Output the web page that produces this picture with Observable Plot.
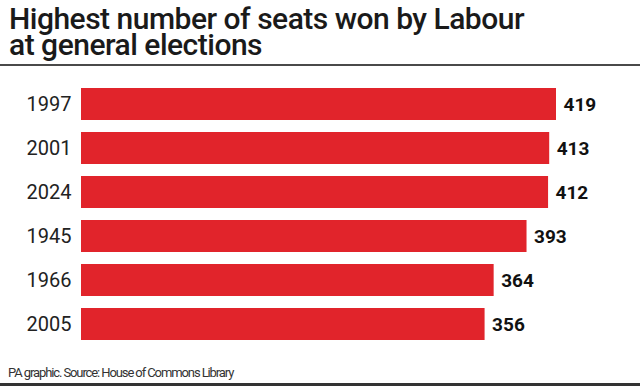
<!DOCTYPE html>
<html>
<head>
<meta charset="utf-8">
<script src="https://cdn.jsdelivr.net/npm/d3@7"></script>
<script src="https://cdn.jsdelivr.net/npm/@observablehq/plot@0.6"></script>
<style>
  html, body { margin: 0; padding: 0; background: #fff; }
  #wrap { position: relative; width: 640px; height: 386px; overflow: hidden; font-family: Roboto, "Noto Sans", sans-serif; }
  #title { position: absolute; left: 9px; top: 6px; font-size: 30px; font-weight: 500; line-height: 26px; letter-spacing: -0.5px; color: #1a1a1a; white-space: nowrap; }
  #rule1 { position: absolute; left: 0; top: 64px; width: 640px; height: 2px; background: #4a4a4a; }
  #chart { position: absolute; left: 0; top: 68px; }
  #source { position: absolute; left: 8px; top: 365px; font-size: 13px; letter-spacing: -1.1px; color: #333; white-space: nowrap; }
  #rule2 { position: absolute; left: 0; top: 383px; width: 640px; height: 3px; background: #333; }
</style>
</head>
<body>
<div id="wrap">
  <div id="title">Highest number of seats won by Labour<br>at general elections</div>
  <div id="rule1"></div>
  <div id="chart"></div>
  <div id="source">PA graphic. Source: House of Commons Library</div>
  <div id="rule2"></div>
</div>
<script>
const years = ["1997", "2001", "2024", "1945", "1966", "2005"];
const seats = [419, 413, 412, 393, 364, 356];

const data = years.map((y, i) => ({year: y, seats: seats[i]}));

const chart = Plot.plot({
  width: 640,
  height: 290,
  marginTop: 14,
  marginBottom: 11,
  marginLeft: 81,
  marginRight: 84,
  style: {fontFamily: "Roboto, sans-serif", background: "transparent"},
  x: {domain: [0, 419], axis: null},
  y: {domain: years, paddingInner: 0.2727, paddingOuter: 0.1364, label: null},
  marks: [
    Plot.barX(data, {x: "seats", y: "year", fill: "#e1242b"}),
    Plot.axisY({tickSize: 0, tickPadding: 10, fontSize: 20, label: null, fill: "#222", style: "letter-spacing:-1px"}),
    Plot.text(data, {x: "seats", y: "year", text: d => String(d.seats), textAnchor: "start", dx: 7, fontSize: 19, fontWeight: 700, fill: "#111", style: "letter-spacing:-0.5px"})
  ]
});
document.getElementById("chart").appendChild(chart);
</script>
</body>
</html>
